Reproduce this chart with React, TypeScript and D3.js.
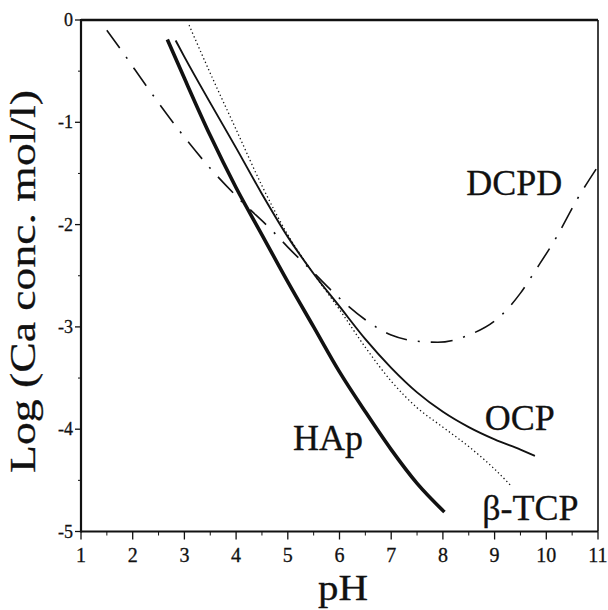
import React from "react";
import * as d3 from "d3";

// solubility isotherms
const hapPH = [2.67, 3.0, 3.5, 4.0, 4.5, 5.0, 5.5, 6.0, 6.5, 7.0, 7.5, 8.03];
const hapLog = [-0.19, -0.57, -1.13, -1.64, -2.1, -2.56, -3.0, -3.44, -3.83, -4.2, -4.53, -4.81];

const ocpPH = [2.83, 3.0, 3.5, 4.0, 4.5, 5.0, 5.5, 6.0, 6.5, 7.0, 7.5, 8.0, 8.5, 9.0, 9.5, 9.78];
const ocpLog = [-0.2, -0.36, -0.81, -1.25, -1.7, -2.12, -2.48, -2.8, -3.12, -3.4, -3.64, -3.83, -3.98, -4.1, -4.2, -4.26];

const tcpPH = [3.09, 3.5, 4.0, 4.5, 5.0, 5.5, 6.0, 6.5, 7.0, 7.5, 8.0, 8.5, 9.0, 9.33];
const tcpLog = [-0.05, -0.52, -1.07, -1.62, -2.1, -2.48, -2.83, -3.2, -3.53, -3.79, -3.98, -4.17, -4.39, -4.56];

const dcpdPH = [1.5, 1.8, 2.3, 2.9, 3.5, 4.1, 4.7, 5.0, 5.5, 6.0, 6.5, 7.0, 7.5, 7.9, 8.5, 9.1, 9.5, 9.8, 10.2, 10.6, 11.0];
const dcpdLog = [-0.1, -0.31, -0.67, -1.08, -1.45, -1.77, -2.06, -2.22, -2.47, -2.72, -2.93, -3.08, -3.14, -3.15, -3.08, -2.9, -2.67, -2.44, -2.12, -1.75, -1.43];

const xTicks = [1, 2, 3, 4, 5, 6, 7, 8, 9, 10, 11];
const yTicks = [0, -1, -2, -3, -4, -5];

const labels = [
  { text: "DCPD", ph: 8.45, log: -1.71 },
  { text: "OCP", ph: 8.81, log: -4.01 },
  { text: "HAp", ph: 5.1, log: -4.2 },
  { text: "β-TCP", ph: 8.76, log: -4.89 },
];

const W = 608;
const H = 610;
const serif = "Liberation Serif, Times New Roman, Times, serif";

export default function App() {
  const x = d3.scaleLinear().domain([1, 11]).range([81, 598]);
  const y = d3.scaleLinear().domain([-5, 0]).range([531.5, 20]);

  const line = (px: number[], py: number[]) =>
    d3
      .line<number>()
      .x((d, i) => x(px[i]))
      .y((d) => y(d))
      .curve(d3.curveMonotoneX)(py) || "";

  const minorX = d3.range(1.5, 11, 1);
  const minorY = d3.range(-4.5, 0, 1);

  return (
    <div style={{ position: "absolute", left: 0, top: 0 }}>
      <svg width={W} height={H} style={{ display: "block", background: "#fff" }}>
        {/* curves */}
        <path d={line(dcpdPH, dcpdLog)} fill="none" stroke="#111" strokeWidth={1.6} strokeDasharray="22,11,2,11" />
        <path d={line(tcpPH, tcpLog)} fill="none" stroke="#111" strokeWidth={1.3} strokeDasharray="1.3,2.7" />
        <path d={line(ocpPH, ocpLog)} fill="none" stroke="#111" strokeWidth={1.9} />
        <path d={line(hapPH, hapLog)} fill="none" stroke="#111" strokeWidth={3.6} />

        {/* frame */}
        <line x1={x(1)} x2={x(11)} y1={y(0)} y2={y(0)} stroke="#111" strokeWidth={2.5} />
        <line x1={x(11)} x2={x(11)} y1={y(0)} y2={y(-5)} stroke="#111" strokeWidth={1.6} />
        <line x1={x(1)} x2={x(11)} y1={y(-5)} y2={y(-5)} stroke="#111" strokeWidth={2.2} />
        <line x1={x(1)} x2={x(1)} y1={y(0) - 1} y2={y(-5) + 1} stroke="#111" strokeWidth={2.2} />

        {/* x ticks */}
        {xTicks.map((t) => (
          <g key={"xt" + t}>
            <line x1={x(t)} x2={x(t)} y1={y(-5)} y2={y(-5) + 8} stroke="#111" strokeWidth={1.3} />
            <text x={x(t)} y={562} textAnchor="middle" fontFamily={serif} fontSize={20} fill="#111" stroke="#111" strokeWidth={0.3}>
              {t}
            </text>
          </g>
        ))}
        {minorX.map((t) => (
          <line key={"xm" + t} x1={x(t)} x2={x(t)} y1={y(-5)} y2={y(-5) + 4} stroke="#111" strokeWidth={1} />
        ))}

        {/* y ticks */}
        {yTicks.map((t) => (
          <g key={"yt" + t}>
            <line x1={x(1) - 6} x2={x(1)} y1={y(t)} y2={y(t)} stroke="#111" strokeWidth={1.3} />
            <text x={73} y={y(t) + 6} textAnchor="end" fontFamily={serif} fontSize={18} fill="#111" stroke="#111" strokeWidth={0.3}>
              {t === 0 ? "0" : "-" + Math.abs(t)}
            </text>
          </g>
        ))}
        {minorY.map((t) => (
          <line key={"ym" + t} x1={x(1) - 3} x2={x(1)} y1={y(t)} y2={y(t)} stroke="#111" strokeWidth={1} />
        ))}

        {/* axis titles */}
        <text
          x={343}
          y={600}
          textAnchor="middle"
          fontFamily={serif}
          fontSize={35}
          textLength={50}
          lengthAdjust="spacingAndGlyphs"
          fill="#111"
          stroke="#111"
          strokeWidth={0.3}
        >
          pH
        </text>
        <text
          transform="translate(35,281.5) rotate(-90)"
          textAnchor="middle"
          fontFamily={serif}
          fontSize={35}
          textLength={383}
          lengthAdjust="spacingAndGlyphs"
          fill="#111"
          stroke="#111"
          strokeWidth={0.3}
        >
          Log (Ca conc. mol/l)
        </text>

        {/* curve labels */}
        {labels.map((l) => (
          <text key={l.text} x={x(l.ph)} y={y(l.log)} fontFamily={serif} fontSize={36} fill="#111" stroke="#111" strokeWidth={0.3}>
            {l.text}
          </text>
        ))}
      </svg>
    </div>
  );
}
